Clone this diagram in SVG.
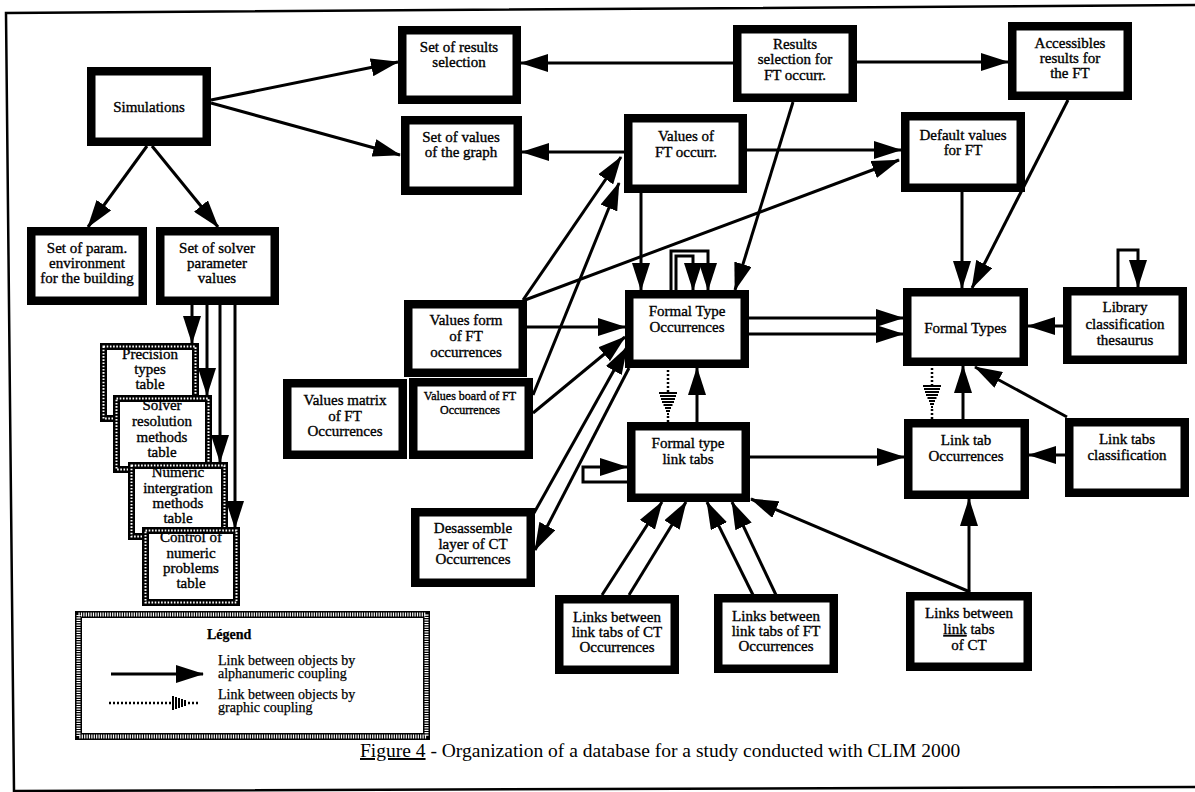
<svg xmlns="http://www.w3.org/2000/svg" width="1195" height="792" viewBox="0 0 1195 792">
<style>
.box{fill:#fff;stroke:#000;stroke-width:8.5}
.dbox{fill:#fff;stroke:#000;stroke-width:7}
.dboxi{fill:none;stroke:#fff;stroke-width:2;stroke-dasharray:1.6 1.6}
.t{font-family:"Liberation Serif","Times New Roman",serif;font-size:15px;text-anchor:middle;fill:#000;stroke:#000;stroke-width:0.35}
.ts{font-size:12px}
.c{fill:none;stroke:#000;stroke-width:3}
.a{marker-end:url(#ah)}
.dot{fill:none;stroke:#000;stroke-width:2.5;stroke-dasharray:2 2}
.bar{stroke:#000;stroke-width:2}
.lt{font-family:"Liberation Serif","Times New Roman",serif;font-size:14px;fill:#000;stroke:#000;stroke-width:0.25}
</style>
<defs>
<marker id="ah" viewBox="0 0 28 18" refX="27" refY="9" markerWidth="28" markerHeight="18" markerUnits="userSpaceOnUse" orient="auto"><path d="M0,0 L28,9 L0,18 Z"/></marker>
</defs>
<rect width="1195" height="792" fill="#fff"/>
<g id="frame" fill="none" stroke="#000" stroke-width="2.5">
<path d="M1195,5 L6,13 L14,791 L1195,787"/>
</g>

<g id="connectors">
<path class="c a" d="M211,100 L398,62"/>
<path class="c a" d="M211,103 L400,155"/>
<path class="c a" d="M147,146 L88,227"/>
<path class="c a" d="M152,146 L218,227"/>
<path class="c a" d="M192,305 V343"/>
<path class="c a" d="M207,305 V395"/>
<path class="c a" d="M220,305 V462"/>
<path class="c a" d="M235,305 V528"/>
<path class="c a" d="M733,63 H521"/>
<path class="c a" d="M857,62 H1008"/>
<path class="c a" d="M624,152 H522"/>
<path class="c a" d="M747,150 H901"/>
<path class="c a" d="M641,193 V290"/>
<path class="c a" d="M793,102 L735,290"/>
<path class="c a" d="M962,192 V288"/>
<path class="c a" d="M1068,100 L972,288"/>
<path class="c a" d="M523,300 L621,157"/>
<path class="c a" d="M533,395 L619,183"/>
<path class="c a" d="M525,300 L899,160"/>
<path class="c a" d="M527,327 H625"/>
<path class="c a" d="M533,413 L625,337"/>
<path class="c a" d="M534,513 L627,347"/>
<path class="c a" d="M629,368 L535,550"/>
<path class="c a" d="M671,290 V251 H708 V290"/>
<path class="c a" d="M676,290 V256 H693 V290"/>
<path class="c a" d="M749,318 H903"/>
<path class="c a" d="M749,334 H903"/>
<path class="c a" d="M1063,326 H1028"/>
<path class="c a" d="M1118,287 V250 H1138 V287"/>
<path class="c a" d="M697,422 V368"/>
<path class="c a" d="M963,419 V366"/>
<path class="c a" d="M1067,417 L975,367"/>
<path class="c a" d="M1065,455 H1029"/>
<path class="c a" d="M750,457 H904"/>
<path class="c a" d="M627,482 H583 V467 H627"/>
<path class="c a" d="M602,595 L662,502"/>
<path class="c a" d="M629,595 L686,502"/>
<path class="c a" d="M753,595 L707,502"/>
<path class="c a" d="M776,595 L732,502"/>
<path class="c a" d="M970,592 L751,499"/>
<path class="c a" d="M969,592 V499"/>
<g id="graphic1">
<path class="dot" d="M668,370 V392"/>
<path class="bar" d="M659,393 H677 M660,396 H676 M661,399 H675 M662,402 H674 M663.5,405 H672.5 M665,408 H671 M666,411 H670 M667,414 H669"/>
<path class="dot" d="M668,416 V422"/>
</g>
<g id="graphic2">
<path class="dot" d="M932,368 V385"/>
<path class="bar" d="M923,386 H941 M924,389 H940 M925,392 H939 M926,395 H938 M927.5,398 H936.5 M929,401 H935 M930,404 H934 M931,407 H933"/>
<path class="dot" d="M932,409 V419"/>
</g>
</g>

<g id="n-simulations"><rect class="box" x="91.25" y="71.25" width="115.5" height="70.5"/><text class="t" x="149" y="112" font-size="15.5">Simulations</text></g>
<g id="n-param-env"><rect class="box" x="31.25" y="231.25" width="111.5" height="69.5"/><text class="t" x="87" y="252.5">Set of param.</text><text class="t" x="87" y="267.5">environment</text><text class="t" x="87" y="282.5">for the building</text></g>
<g id="n-solver"><rect class="box" x="160.25" y="231.25" width="114.5" height="69.5"/><text class="t" x="217" y="252.5">Set of  solver</text><text class="t" x="217" y="267.5">parameter</text><text class="t" x="217" y="282.5">values</text></g>
<g id="n-results-sel"><rect class="box" x="402.25" y="30.25" width="114.5" height="69.5"/><text class="t" x="459" y="51.5">Set of results</text><text class="t" x="459" y="66.5">selection</text></g>
<g id="n-values-graph"><rect class="box" x="405.25" y="120.25" width="112.5" height="70.5"/><text class="t" x="461" y="142">Set of values</text><text class="t" x="461" y="157">of the graph</text></g>
<g id="n-values-ft"><rect class="box" x="628.25" y="118.25" width="114.5" height="70.5"/><text class="t" x="686" y="141">Values of</text><text class="t" x="686" y="157">FT occurr.</text></g>
<g id="n-results-ft"><rect class="box" x="737.25" y="29.25" width="115.5" height="68.5"/><text class="t" x="795" y="48.5">Results</text><text class="t" x="795" y="64">selection for</text><text class="t" x="795" y="79.5">FT occurr.</text></g>
<g id="n-accessibles"><rect class="box" x="1012.25" y="26.25" width="115.5" height="69.5"/><text class="t" x="1070" y="48">Accessibles</text><text class="t" x="1070" y="63">results for</text><text class="t" x="1070" y="78">the FT</text></g>
<g id="n-default"><rect class="box" x="905.25" y="116.25" width="115.5" height="71.5"/><text class="t" x="963" y="140">Default values</text><text class="t" x="963" y="155">for  FT</text></g>
<g id="n-fto"><rect class="box" x="629.25" y="294.25" width="115.5" height="69.5"/><text class="t" x="687" y="316">Formal Type</text><text class="t" x="687" y="332">Occurrences</text></g>
<g id="n-ft"><rect class="box" x="907.25" y="292.25" width="116.5" height="69.5"/><text class="t" x="965.5" y="333" font-size="15.5">Formal Types</text></g>
<g id="n-library"><rect class="box" x="1067.25" y="291.25" width="115.5" height="68.5"/><text class="t" x="1125" y="312">Library</text><text class="t" x="1125" y="328.5">classification</text><text class="t" x="1125" y="345">thesaurus</text></g>
<g id="n-lto"><rect class="box" x="908.25" y="423.25" width="116.5" height="71.5"/><text class="t" x="966" y="445">Link tab</text><text class="t" x="966" y="461">Occurrences</text></g>
<g id="n-ltc"><rect class="box" x="1069.25" y="422.25" width="115.5" height="70.5"/><text class="t" x="1127" y="444">Link tabs</text><text class="t" x="1127" y="460">classification</text></g>
<g id="n-ftlt"><rect class="box" x="631.25" y="426.25" width="114.5" height="71.5"/><text class="t" x="688" y="448">Formal type</text><text class="t" x="688" y="463.5">link tabs</text></g>
<g id="n-values-form"><rect class="box" x="408.25" y="304.25" width="114.5" height="68.5"/><text class="t" x="466" y="325">Values form</text><text class="t" x="466" y="341">of FT</text><text class="t" x="466" y="356.5">occurrences</text></g>
<g id="n-values-board"><rect class="box" x="413.25" y="382.25" width="115.5" height="72.5"/><text class="t ts" x="470" y="400">Values board of FT</text><text class="t ts" x="470" y="414">Occurrences</text></g>
<g id="n-values-matrix"><rect class="box" x="287.25" y="383.25" width="115.5" height="71.5"/><text class="t" x="345" y="405">Values matrix</text><text class="t" x="345" y="420.5">of FT</text><text class="t" x="345" y="436">Occurrences</text></g>
<g id="n-desassemble"><rect class="box" x="415.25" y="512.25" width="115.5" height="70.5"/><text class="t" x="473" y="533">Desassemble</text><text class="t" x="473" y="548.5">layer of  CT</text><text class="t" x="473" y="564">Occurrences</text></g>
<g id="n-links-ct-occ"><rect class="box" x="559.25" y="599.25" width="115.5" height="70.5"/><text class="t" x="617" y="622">Links between</text><text class="t" x="617" y="637">link tabs of CT</text><text class="t" x="617" y="652">Occurrences</text></g>
<g id="n-links-ft-occ"><rect class="box" x="718.25" y="598.25" width="115.5" height="70.5"/><text class="t" x="776" y="621">Links between</text><text class="t" x="776" y="636">link tabs of FT</text><text class="t" x="776" y="651">Occurrences</text></g>
<g id="n-links-ct"><rect class="box" x="910.25" y="596.25" width="117.5" height="70.5"/><text class="t" x="969" y="618">Links between</text><text class="t" x="969" y="634"><tspan text-decoration="underline">link</tspan> tabs</text><text class="t" x="969" y="650">of CT</text></g>

<g id="n-precision"><rect class="dbox" x="103.5" y="346.5" width="92" height="72"/><rect class="dboxi" x="103.5" y="346.5" width="92" height="72"/><text class="t" x="150" y="359">Precision</text><text class="t" x="150" y="374">types</text><text class="t" x="150" y="389">table</text></g>
<g id="n-solver-res"><rect class="dbox" x="116.5" y="398.5" width="92" height="71"/><rect class="dboxi" x="116.5" y="398.5" width="92" height="71"/><text class="t" x="162" y="410">Solver</text><text class="t" x="162" y="426">resolution</text><text class="t" x="162" y="442">methods</text><text class="t" x="162" y="457">table</text></g>
<g id="n-numeric"><rect class="dbox" x="131.5" y="465.5" width="93" height="71"/><rect class="dboxi" x="131.5" y="465.5" width="93" height="71"/><text class="t" x="178" y="477">Numeric</text><text class="t" x="178" y="493">intergration</text><text class="t" x="178" y="508">methods</text><text class="t" x="178" y="523">table</text></g>
<g id="n-control"><rect class="dbox" x="145.5" y="530.5" width="91" height="72"/><rect class="dboxi" x="145.5" y="530.5" width="91" height="72"/><text class="t" x="191" y="542">Control of</text><text class="t" x="191" y="558">numeric</text><text class="t" x="191" y="573">problems</text><text class="t" x="191" y="588">table</text></g>

<g id="legend">
<rect x="78.5" y="614.5" width="348" height="122" fill="#fff" stroke="#000" stroke-width="7"/>
<rect x="78.5" y="614.5" width="348" height="122" fill="none" stroke="#fff" stroke-width="4" stroke-dasharray="1.2 1.2"/>
<text class="lt" x="207" y="639" font-weight="bold">Légend</text>
<path class="c a" d="M111,674 H203"/>
<text class="lt" x="218" y="665">Link between objects by</text>
<text class="lt" x="218" y="678">alphanumeric coupling</text>
<path class="dot" d="M109,703 H172"/>
<path class="bar" d="M173,696 V710 M176,697 V709 M179,698 V708 M182,699 V707 M185,700 V706"/>
<path class="dot" d="M188,703 H199"/>
<text class="lt" x="218" y="699">Link between objects by</text>
<text class="lt" x="218" y="712">graphic coupling</text>
</g>

<g id="caption">
<text x="360" y="757" font-family="Liberation Serif, Times New Roman, serif" font-size="19.5" fill="#000"><tspan text-decoration="underline">Figure 4</tspan> - Organization of a database for a study conducted with CLIM 2000</text>
</g>
</svg>
